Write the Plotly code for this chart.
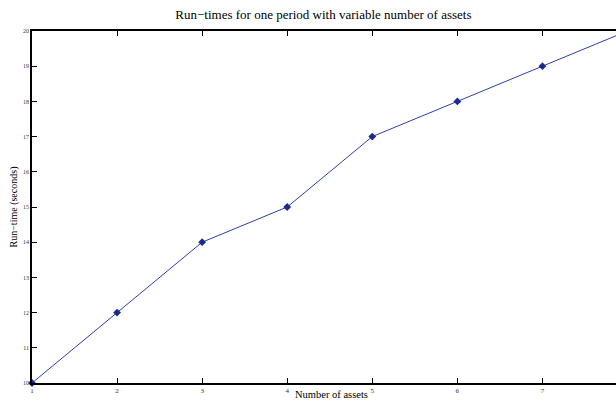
import plotly.graph_objects as go

# Run-time measurements versus number of assets
n_assets = [1, 2, 3, 4, 5, 6, 7, 8]
run_time = [10, 12, 14, 15, 17, 18, 19, 20]
x_ticks = [1, 2, 3, 4, 5, 6, 7, 8]
y_ticks = [10, 11, 12, 13, 14, 15, 16, 17, 18, 19, 20]

serif = "Liberation Serif, Times New Roman, serif"

fig = go.Figure()
fig.add_trace(go.Scatter(
    x=n_assets, y=run_time, mode="lines+markers",
    line=dict(color="#2e3fa8", width=1),
    marker=dict(symbol="diamond", size=6, color="#1c2a8c"),
    cliponaxis=False,
))

fig.update_layout(
    width=616, height=400,
    margin=dict(l=32, r=0, t=31, b=17, autoexpand=False),
    paper_bgcolor="white", plot_bgcolor="white",
    showlegend=False,
    title=dict(
        text="Run\u2212times for one period with variable number of assets",
        font=dict(family=serif, size=13, color="black"),
        x=0.525, xanchor="center", y=0.965, yanchor="middle",
    ),
    font=dict(family=serif, color="#333"),
)

# x-axis label placed under the centre of the full data span (1..8)
fig.add_annotation(
    text="Number of assets", xref="paper", yref="paper",
    x=0.512, y=0, xanchor="center", yanchor="top", yshift=-5,
    showarrow=False, font=dict(family=serif, size=10.5, color="black"),
    borderpad=0,
)

fig.update_xaxes(
    range=[1, 7.865], tickvals=x_ticks,
    ticks="inside", ticklen=5, tickwidth=1, tickcolor="black",
    showline=True, linecolor="black", linewidth=1.5, mirror="ticks",
    showgrid=False, zeroline=False, automargin=False,
    tickfont=dict(family=serif, size=7, color="#333"),
)
fig.update_yaxes(
    range=[10, 20], tickvals=y_ticks,
    ticks="inside", ticklen=5, tickwidth=1, tickcolor="black",
    showline=True, linecolor="black", linewidth=1.5,
    showgrid=False, zeroline=False, automargin=False,
    tickfont=dict(family=serif, size=6, color="#333"),
    title=dict(text="Run\u2212time (seconds)", font=dict(family=serif, size=10, color="black"), standoff=4),
)

fig.write_html("out.html")
